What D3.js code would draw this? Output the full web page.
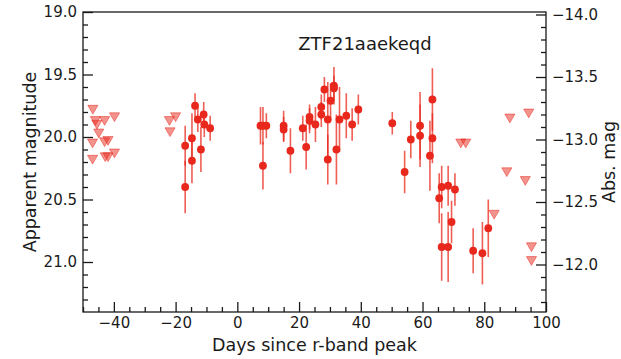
<!DOCTYPE html>
<html><head><meta charset="utf-8">
<script src="https://cdn.jsdelivr.net/npm/d3@7"></script>
<style>body{margin:0;background:#fff}svg{display:block}text{font-family:"DejaVu Sans",sans-serif;fill:#1a1a1a}</style>
</head><body><svg id="c" width="621" height="359"></svg>
<script>
// Detections (days since r-band peak, apparent mag, error)
const detDays = [-16.9,-16.9,-14.7,-14.7,-13.7,-12.8,-11.8,-10.9,-10.7,-8.8,
  7.5,8.3,9.4,8.3,15.0,15.0,17.2,21.2,22.3,23.4,23.4,25.3,27.2,27.2,28.2,29.3,29.3,30.2,31.3,31.3,32.1,33.1,35.3,37.2,39.2,
  50.2,54.2,56.2,59.2,59.2,63.2,63.2,62.4,65.4,66.2,68.3,70.5,69.4,66.2,68.3,76.4,79.4,81.3];
const detMags = [20.40,20.07,20.01,20.19,19.75,19.86,20.10,19.82,19.90,19.93,
  19.91,19.91,19.91,20.23,19.91,19.94,20.11,19.93,20.08,19.84,19.87,19.90,19.76,19.82,19.62,19.86,20.18,19.71,19.59,19.61,20.10,19.86,19.83,19.90,19.78,
  19.89,20.28,20.02,19.91,19.99,19.70,20.01,20.15,20.49,20.40,20.39,20.42,20.68,20.88,20.88,20.91,20.93,20.73];
const detErrs = [0.21,0.16,0.20,0.18,0.10,0.10,0.18,0.10,0.10,0.10,
  0.15,0.15,0.10,0.19,0.12,0.10,0.18,0.10,0.18,0.10,0.10,0.14,0.10,0.10,0.10,0.30,0.20,0.14,0.15,0.10,0.28,0.26,0.18,0.13,0.12,
  0.09,0.17,0.15,0.27,0.25,0.25,0.20,0.28,0.20,0.17,0.16,0.13,0.17,0.27,0.28,0.18,0.25,0.23];
// Upper limits
const limDays = [-46.8,-46.0,-45.5,-43.0,-39.8,-44.9,-46.9,-43.0,-41.9,-46.9,-42.8,-41.9,-39.8,-22.0,-20.0,-21.8,72.4,74.0,88.3,94.4,87.3,93.3,83.2,95.3,95.3];
const limMags = [19.77,19.86,19.89,19.86,19.83,19.96,20.04,20.03,20.02,20.17,20.15,20.15,20.12,19.86,19.83,19.95,20.04,20.04,19.84,19.80,20.27,20.34,20.61,20.87,20.98];
// Axes
const xTicks = [-40,-20,0,20,40,60,80,100];
const yTicks = [19.0,19.5,20.0,20.5,21.0];
const absTicks = [-14.0,-13.5,-13.0,-12.5,-12.0];
const distMod = 33.02;
const title = "ZTF21aaekeqd";

const svg = d3.select("#c");
const L=83,R=546,T=12,B=312;
const x = d3.scaleLinear().domain([-50,100]).range([L,R]);
const y = d3.scaleLinear().domain([19.0,21.4]).range([T,B]);
const yAbs = d3.scaleLinear().domain([19.0-distMod,21.4-distMod]).range([T,B]);
const red = "#e8281c";

function style(g){
  g.select(".domain").remove();
  g.selectAll(".tick line").attr("stroke","#1a1a1a").attr("stroke-width",1.3);
  g.selectAll(".tick text").style("font-size","15px").attr("fill","#1a1a1a");
}
const minorX = d3.range(-50,100.1,5).filter(v=>v%20!==0);
const minorY = d3.range(190,214,1).map(v=>v/10).filter(v=>Math.abs(v*2-Math.round(v*2))>1e-6);
const minorA = d3.range(-140,-116,1).map(v=>v/10).filter(v=>Math.abs(v*2-Math.round(v*2))>1e-6 && v+distMod<=21.4);

// minor ticks
svg.append("g").attr("transform",`translate(0,${B})`).call(d3.axisBottom(x).tickValues(minorX).tickSize(-5).tickFormat("")).call(style);
svg.append("g").attr("transform",`translate(${L},0)`).call(d3.axisLeft(y).tickValues(minorY).tickSize(-5).tickFormat("")).call(style);
svg.append("g").attr("transform",`translate(${R},0)`).call(d3.axisRight(yAbs).tickValues(minorA).tickSize(-5).tickFormat("")).call(style);
// major ticks
svg.append("g").attr("transform",`translate(0,${B})`).call(d3.axisBottom(x).tickValues(xTicks).tickSize(-10).tickPadding(5).tickFormat(d3.format("d"))).call(style);
svg.append("g").attr("transform",`translate(${L},0)`).call(d3.axisLeft(y).tickValues(yTicks).tickSize(-10).tickPadding(6).tickFormat(d3.format(".1f"))).call(style);
svg.append("g").attr("transform",`translate(${R},0)`).call(d3.axisRight(yAbs).tickValues(absTicks).tickSize(-10).tickPadding(6).tickFormat(d3.format(".1f"))).call(style);

svg.append("rect").attr("x",L).attr("y",T).attr("width",R-L).attr("height",B-T)
  .attr("fill","none").attr("stroke","#1a1a1a").attr("stroke-width",1.3);

// upper limits
const tri = d3.symbol().type(d3.symbolTriangle).size(44);
svg.append("g").selectAll("path").data(limDays.map((d,i)=>[d,limMags[i]])).join("path")
  .attr("d",tri).attr("transform",d=>`translate(${x(d[0])},${y(d[1])}) rotate(180)`)
  .attr("fill",red).attr("fill-opacity",0.5).attr("stroke",red).attr("stroke-opacity",0.5).attr("stroke-width",1);

// detections
const det = detDays.map((d,i)=>({d,m:detMags[i],e:detErrs[i]}));
svg.append("g").selectAll("line").data(det).join("line")
  .attr("x1",p=>x(p.d)).attr("x2",p=>x(p.d)).attr("y1",p=>y(p.m-p.e)).attr("y2",p=>y(p.m+p.e))
  .attr("stroke",red).attr("stroke-opacity",0.75).attr("stroke-width",1.6);
svg.append("g").selectAll("circle").data(det).join("circle")
  .attr("cx",p=>x(p.d)).attr("cy",p=>y(p.m)).attr("r",3.9).attr("fill",red);

// labels
svg.append("text").attr("x",365).attr("y",50).attr("text-anchor","middle").style("font-size","18px").text(title);
svg.append("text").attr("x",(L+R)/2).attr("y",351).attr("text-anchor","middle").style("font-size","17.5px").text("Days since r-band peak");
svg.append("text").attr("transform",`translate(36,${(T+B)/2}) rotate(-90)`).attr("text-anchor","middle").style("font-size","17.5px").text("Apparent magnitude");
svg.append("text").attr("transform",`translate(615,${(T+B)/2}) rotate(-90)`).attr("text-anchor","middle").style("font-size","17.5px").text("Abs. mag");
</script></body></html>
